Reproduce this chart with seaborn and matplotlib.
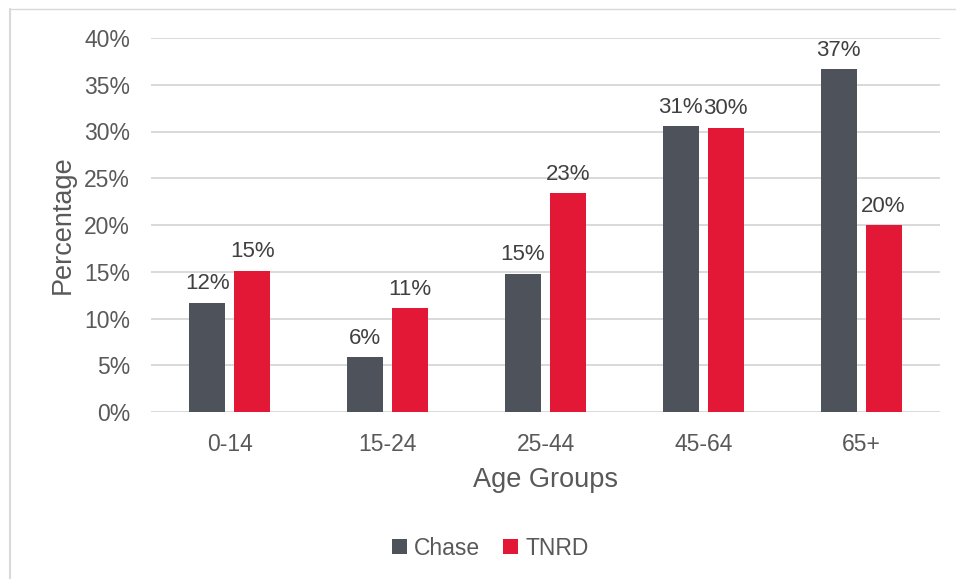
import matplotlib
matplotlib.use("Agg")
import matplotlib.pyplot as plt
from matplotlib.lines import Line2D
from matplotlib.patches import Patch
from matplotlib.ticker import FuncFormatter, MultipleLocator
import seaborn as sns
import pandas as pd

age_groups = ["0-14", "15-24", "25-44", "45-64", "65+"]
chase = [11.7, 5.9, 14.8, 30.6, 36.7]
tnrd = [15.1, 11.1, 23.4, 30.4, 20.0]
series_names = ["Chase", "TNRD"]
colors = ["#4D525B", "#E31837"]

df = pd.DataFrame({
    "Age Groups": age_groups * 2,
    "Percentage": chase + tnrd,
    "Area": [series_names[0]] * len(age_groups) + [series_names[1]] * len(age_groups),
})

sns.set_theme(style="white")
plt.rcParams["font.family"] = ["Liberation Sans", "DejaVu Sans"]
text_color = "#595959"

fig = plt.figure(figsize=(9.56, 5.79), dpi=100)
ax = fig.add_axes([151 / 956, (579 - 412) / 579, (940 - 151) / 956, (412 - 38) / 579])

sns.barplot(data=df, x="Age Groups", y="Percentage", hue="Area",
            palette=colors, width=0.513, gap=0.11, ax=ax,
            legend=False, saturation=1, linewidth=0, errorbar=None)

# bar geometry: each bar 0.228 of a category slot, with a small gap between the pair
bar_w = 0.228
step = 0.285
for h, container in enumerate(ax.containers):
    for i, bar in enumerate(container):
        bar.set_width(bar_w)
        bar.set_x(i + (h - 0.5) * step - bar_w / 2)

ax.set_ylim(0, 40)
ax.set_xlim(-0.5, len(age_groups) - 0.5)
ax.yaxis.set_major_locator(MultipleLocator(5))
ax.yaxis.set_major_formatter(FuncFormatter(lambda v, p: f"{v:.0f}%"))
ax.grid(axis="y", color="#D9D9D9", linewidth=1.4)
ax.set_axisbelow(True)
for s in ax.spines.values():
    s.set_visible(False)
ax.tick_params(axis="both", length=0, labelsize=16.5, colors=text_color)
ax.tick_params(axis="y", pad=15)
ax.tick_params(axis="x", pad=15)
ax.set_xlabel("Age Groups", fontsize=19.5, color=text_color, labelpad=8)
ax.set_ylabel("Percentage", fontsize=19.5, color=text_color, labelpad=6)

for container in ax.containers:
    ax.bar_label(container, labels=[f"{b.get_height():.0f}%" for b in container],
                 padding=6, fontsize=16, color="#404040")

handles = [Patch(facecolor=c, edgecolor="none") for c in colors]
fig.legend(handles, series_names, loc="center", bbox_to_anchor=(0.513, 0.053),
           ncol=2, frameon=False, fontsize=16.5, handlelength=0.65, handleheight=0.65,
           handletextpad=0.3, columnspacing=1.0, labelcolor=text_color)

# outer chart frame (left and top edges)
frame_color = "#D9D9D9"
fig.add_artist(Line2D([10 / 956, 10 / 956], [0, 1 - 9 / 579], color=frame_color,
                      linewidth=1.5, transform=fig.transFigure))
fig.add_artist(Line2D([10 / 956, 1], [1 - 9 / 579, 1 - 9 / 579], color=frame_color,
                      linewidth=1.0, transform=fig.transFigure))

fig.savefig("out.png", dpi=100, facecolor="white")
